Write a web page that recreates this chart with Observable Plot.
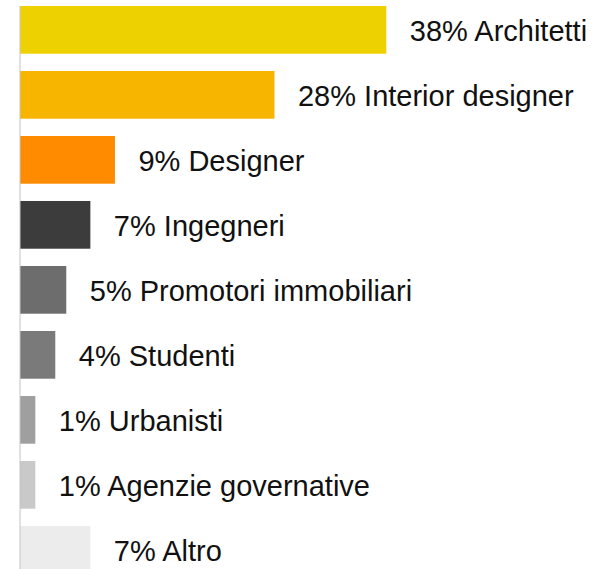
<!DOCTYPE html>
<html>
<head>
<meta charset="utf-8">
<script src="https://cdn.jsdelivr.net/npm/d3@7"></script>
<script src="https://cdn.jsdelivr.net/npm/@observablehq/plot@0.6"></script>
<style>
  html, body { margin: 0; padding: 0; background: #fff; overflow: hidden; }
  #chart { width: 594px; height: 569px; overflow: hidden; }
</style>
</head>
<body>
<div id="chart"></div>
<script>
const categories = ["Architetti", "Interior designer", "Designer", "Ingegneri", "Promotori immobiliari", "Studenti", "Urbanisti", "Agenzie governative", "Altro"];
const labelPercents = [38, 28, 9, 7, 5, 4, 1, 1, 7];
const barValues = [38, 26.4, 9.85, 7.3, 4.8, 3.66, 1.59, 1.59, 7.3];
const colors = ["#EED100", "#F7B500", "#FF8C00", "#3C3C3C", "#6D6D6D", "#7A7A7A", "#9F9F9F", "#C9C9C9", "#ECECEC"];

const data = categories.map((c, i) => ({cat: c, value: barValues[i], pct: labelPercents[i]}));

const chart = Plot.plot({
  width: 594,
  height: 569,
  marginTop: 6,
  marginBottom: 0,
  marginLeft: 20,
  marginRight: 0,
  style: {overflow: "hidden", background: "#fff"},
  x: {domain: [0, 38], range: [20, 386.3], axis: null},
  y: {domain: categories, range: [6, 573.7], paddingInner: 0.266, paddingOuter: 0, round: false, axis: null},
  color: {domain: categories, range: colors},
  marks: [
    Plot.barX(data, {x: "value", y: "cat", fill: "cat"}),
    Plot.ruleX([0], {stroke: "#c4c4c4", strokeWidth: 1, dx: -0.5}),
    Plot.text(data, {
      x: "value", y: "cat",
      text: d => `${d.pct}% ${d.cat}`,
      textAnchor: "start", dx: 23, dy: 1.5,
      fontSize: 29, fill: "#111",
      fontFamily: "'Liberation Sans', Arial, Helvetica, sans-serif"
    })
  ]
});
document.getElementById("chart").appendChild(chart);
</script>
</body>
</html>
